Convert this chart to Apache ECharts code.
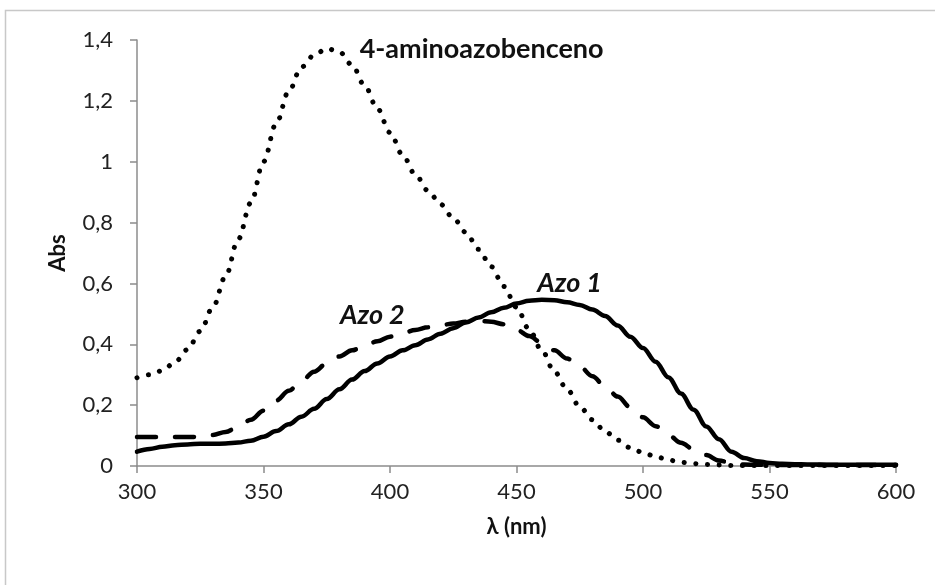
<!DOCTYPE html>
<html>
<head>
<meta charset="utf-8">
<script src="https://cdn.jsdelivr.net/npm/echarts@6/dist/echarts.min.js"></script>
<style>
  html, body { margin: 0; padding: 0; background: #fff; }
  #chart { width: 935px; height: 585px; }
</style>
</head>
<body>
<div id="chart"></div>
<script>
// Wavelength grid (nm)
const wavelengths = [
  300, 305, 310, 315, 320, 325, 330, 335, 340, 345,
  350, 355, 360, 365, 370, 375, 380, 385, 390, 395,
  400, 405, 410, 415, 420, 425, 430, 435, 440, 445,
  450, 455, 460, 465, 470, 475, 480, 485, 490, 495,
  500, 505, 510, 515, 520, 525, 530, 535, 540, 545,
  550, 555, 560, 565, 570, 575, 580, 585, 590, 595, 600
];

// Absorbance of 4-aminoazobenceno
const absAminoazo = [
  0.290, 0.300, 0.313, 0.341, 0.383, 0.443, 0.522, 0.623, 0.745, 0.865,
  1.000, 1.125, 1.232, 1.311, 1.350, 1.372, 1.361, 1.318, 1.250, 1.175,
  1.096, 1.022, 0.958, 0.905, 0.860, 0.815, 0.768, 0.712, 0.655, 0.590,
  0.522, 0.449, 0.380, 0.310, 0.252, 0.195, 0.152, 0.114, 0.085, 0.060,
  0.044, 0.031, 0.020, 0.012, 0.008, 0.005, 0.003, 0.002, 0.002, 0.002,
  0.002, 0.002, 0.002, 0.002, 0.002, 0.002, 0.002, 0.002, 0.002, 0.002, 0.002
];

// Absorbance of Azo 1
const absAzo1 = [
  0.047, 0.056, 0.063, 0.068, 0.071, 0.073, 0.073, 0.074, 0.077, 0.083,
  0.096, 0.115, 0.137, 0.162, 0.188, 0.220, 0.252, 0.284, 0.312, 0.337,
  0.360, 0.380, 0.397, 0.416, 0.435, 0.453, 0.472, 0.488, 0.505, 0.520,
  0.534, 0.543, 0.546, 0.545, 0.538, 0.529, 0.514, 0.493, 0.462, 0.425,
  0.388, 0.343, 0.292, 0.238, 0.185, 0.130, 0.088, 0.047, 0.026, 0.016,
  0.010, 0.007, 0.006, 0.005, 0.005, 0.004, 0.004, 0.004, 0.004, 0.004, 0.004
];

// Absorbance of Azo 2
const absAzo2 = [
  0.095, 0.095, 0.095, 0.095, 0.095, 0.096, 0.102, 0.112, 0.128, 0.152,
  0.182, 0.215, 0.247, 0.280, 0.310, 0.337, 0.360, 0.380, 0.395, 0.410,
  0.425, 0.437, 0.447, 0.456, 0.463, 0.468, 0.474, 0.477, 0.474, 0.466,
  0.448, 0.427, 0.405, 0.380, 0.353, 0.327, 0.295, 0.262, 0.228, 0.193,
  0.160, 0.131, 0.102, 0.076, 0.055, 0.036, 0.018, 0.009, 0.005, 0.004,
  0.004, 0.003, 0.003, 0.003, 0.003, 0.003, 0.003, 0.003, 0.003, 0.003, 0.003
];

// Axis ticks
const xTicks = { min: 300, max: 600, step: 50 };
const yTicks = { min: 0, max: 1.4, step: 0.2 };

// Curve annotations: [text, wavelength, absorbance, italic]
const curveLabels = [
  ['4-aminoazobenceno', 388, 1.371, false],
  ['Azo 2', 380.2, 0.495, true],
  ['Azo 1', 458.2, 0.600, true]
];

const pairs = (ys) => wavelengths.map((x, i) => [x, ys[i]]);

const FONT = 'Lato, "Open Sans", "Liberation Sans", sans-serif';
const AXIS_GRAY = '#8c8c8c';

const chart = echarts.init(document.getElementById('chart'), null, { renderer: 'canvas' });

const baseLine = {
  type: 'line',
  showSymbol: false,
  smooth: 0.35,
  smoothMonotone: 'x',
  silent: true,
  animation: false
};

chart.setOption({
  animation: false,
  backgroundColor: '#ffffff',
  grid: { left: 137, right: 39, top: 40, bottom: 119, containLabel: false },
  xAxis: {
    type: 'value',
    min: xTicks.min, max: xTicks.max, interval: xTicks.step,
    name: 'λ (nm)',
    nameLocation: 'middle',
    nameGap: 50,
    nameTextStyle: { fontFamily: FONT, fontWeight: 'bold', fontSize: 22, color: '#111' },
    axisLine: { lineStyle: { color: AXIS_GRAY, width: 1.5 } },
    axisTick: { show: true, inside: false, length: 7, lineStyle: { color: AXIS_GRAY, width: 1.5 } },
    axisLabel: { fontFamily: FONT, fontSize: 22, color: '#222', margin: 15 },
    splitLine: { show: false }
  },
  yAxis: {
    type: 'value',
    min: yTicks.min, max: yTicks.max, interval: yTicks.step,
    name: 'Abs',
    nameLocation: 'middle',
    nameGap: 68,
    nameRotate: 90,
    nameTextStyle: { fontFamily: FONT, fontWeight: 'bold', fontSize: 22, color: '#111' },
    axisLine: { show: true, lineStyle: { color: AXIS_GRAY, width: 1.5 } },
    axisTick: { show: true, inside: false, length: 7, lineStyle: { color: AXIS_GRAY, width: 1.5 } },
    axisLabel: {
      fontFamily: FONT, fontSize: 22, color: '#222', margin: 24,
      formatter: (v) => String(+v.toFixed(1)).replace('.', ',')
    },
    splitLine: { show: false }
  },
  series: [
    Object.assign({}, baseLine, {
      name: '4-aminoazobenceno',
      data: pairs(absAminoazo),
      lineStyle: { color: '#000', width: 5, type: [0.1, 11.6], cap: 'round' }
    }),
    Object.assign({}, baseLine, {
      name: 'Azo 2',
      data: pairs(absAzo2),
      lineStyle: { color: '#000', width: 4.5, type: [19, 19], cap: 'round' }
    }),
    Object.assign({}, baseLine, {
      name: 'Azo 1',
      data: pairs(absAzo1),
      lineStyle: { color: '#000', width: 4.5, type: 'solid', cap: 'round', join: 'round' }
    })
  ]
});

// Outer frame plus curve annotations placed through the axes' own scales
const graphics = [{
  type: 'rect',
  silent: true,
  shape: { x: 5.5, y: 10.5, width: 1000, height: 1000 },
  style: { fill: null, stroke: '#c8c8c8', lineWidth: 1.5 }
}];
curveLabels.forEach(([text, wl, a, italic]) => {
  const [px, py] = chart.convertToPixel({ gridIndex: 0 }, [wl, a]);
  graphics.push({
    type: 'text',
    silent: true,
    x: px, y: py,
    style: {
      text,
      fill: '#111',
      font: (italic ? 'italic ' : '') + 'bold 27px ' + FONT,
      textAlign: 'left',
      textVerticalAlign: 'middle'
    }
  });
});
chart.setOption({ graphic: graphics });
</script>
</body>
</html>
